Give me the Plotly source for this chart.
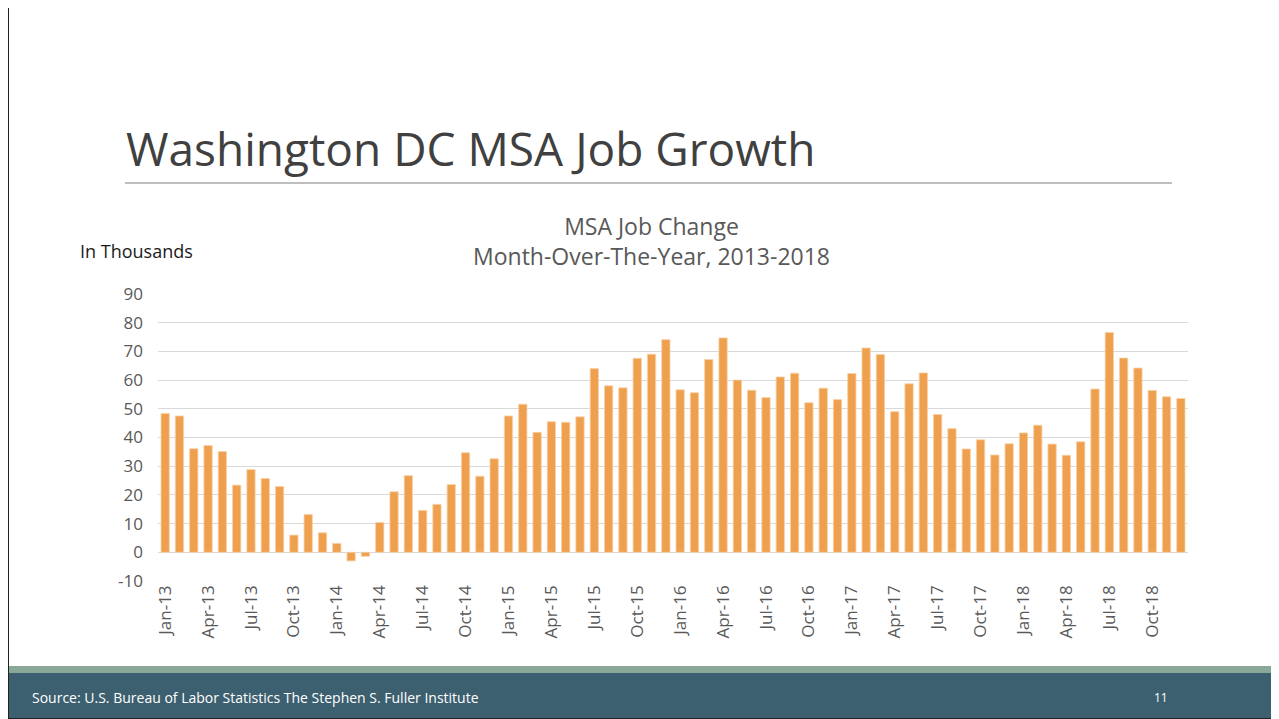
import plotly.graph_objects as go

# Job change month-over-the-year, in thousands
years = ["13", "14", "15", "16", "17", "18"]
month_names = ["Jan", "Feb", "Mar", "Apr", "May", "Jun",
               "Jul", "Aug", "Sep", "Oct", "Nov", "Dec"]
months = [m + "-" + y for y in years for m in month_names]

job_change = [
    48.4, 47.5, 36.1, 37.2, 35.1, 23.4, 28.8, 25.7, 22.9, 6.0, 13.2, 6.8,
    3.1, -3.0, -1.4, 10.4, 21.1, 26.7, 14.6, 16.7, 23.6, 34.7, 26.5, 32.6,
    47.5, 51.6, 41.8, 45.5, 45.3, 47.2, 64.0, 58.0, 57.3, 67.6, 69.0, 74.1,
    56.6, 55.6, 67.2, 74.7, 60.0, 56.5, 53.9, 61.1, 62.4, 52.1, 57.2, 53.2,
    62.3, 71.2, 68.9, 49.0, 58.7, 62.5, 48.0, 43.1, 36.0, 39.2, 33.9, 37.8,
    41.6, 44.3, 37.7, 33.8, 38.5, 56.9, 76.6, 67.7, 64.2, 56.4, 54.2, 53.6,
]

tick_labels = [m + "-" + y for y in years for m in ["Jan", "Apr", "Jul", "Oct"]]
y_ticks = [-10, 0, 10, 20, 30, 40, 50, 60, 70, 80, 90]
y_tick_text = ["-10", "0", "10", "20", "30", "40", "50", "60", "70", "80", "90"]

# the page puts the figure 8px in from the top-left corner
OFF = 8
W, H = 1279 - OFF, 719 - OFF


def px(x):
    return (x - OFF) / W


def py(y):
    return 1 - (y - OFF) / H


fig = go.Figure()
fig.add_trace(go.Bar(
    x=months,
    y=job_change,
    marker=dict(color="#EFA04E", line=dict(color="#F7D2A8", width=0.8)),
    name="Job Change",
))

fig.update_layout(
    width=W,
    height=H,
    margin=dict(l=0, r=0, t=0, b=0),
    paper_bgcolor="white",
    plot_bgcolor="white",
    showlegend=False,
    bargap=0.42,
    font=dict(family="Open Sans", color="#595959"),
    xaxis=dict(
        domain=[px(158), px(1188)],
        type="category",
        tickvals=tick_labels,
        ticktext=tick_labels,
        tickangle=-90,
        tickfont=dict(size=17, color="#595959"),
        showgrid=False,
        showline=False,
        ticks="",
        automargin=False,
    ),
    yaxis=dict(
        domain=[py(581), py(294)],
        range=[-10, 90],
        tickvals=y_ticks,
        ticktext=y_tick_text,
        tickfont=dict(size=17, color="#595959"),
        gridcolor="#D9D9D9",
        gridwidth=1,
        zeroline=True,
        zerolinecolor="#D9D9D9",
        zerolinewidth=1,
        showline=False,
        ticks="",
        ticklabelstandoff=14,
        automargin=False,
    ),
)

# slide title and rule
fig.add_annotation(
    text="Washington DC MSA Job Growth",
    x=px(124), y=py(148), xref="paper", yref="paper",
    xanchor="left", yanchor="middle", showarrow=False,
    font=dict(size=46, color="#404040", family="Open Sans"),
)
fig.add_shape(type="line", xref="paper", yref="paper",
              x0=px(125), x1=px(1172), y0=py(183), y1=py(183),
              line=dict(color="#7F7F7F", width=1))

# chart title
fig.add_annotation(
    text="MSA Job Change<br>Month-Over-The-Year, 2013-2018",
    x=px(651), y=py(241), xref="paper", yref="paper",
    xanchor="center", yanchor="middle", showarrow=False,
    font=dict(size=23, color="#595959", family="Open Sans"),
)

fig.add_annotation(
    text="In Thousands",
    x=px(78), y=py(251), xref="paper", yref="paper",
    xanchor="left", yanchor="middle", showarrow=False,
    font=dict(size=18, color="#1A1A1A", family="Open Sans"),
)

# footer bands
fig.add_shape(type="rect", xref="paper", yref="paper", layer="below",
              x0=0, x1=1, y0=py(673), y1=py(666),
              fillcolor="#8AA898", line=dict(width=0))
fig.add_shape(type="rect", xref="paper", yref="paper", layer="below",
              x0=0, x1=1, y0=0, y1=py(673),
              fillcolor="#3D6070", line=dict(width=0))
fig.add_annotation(
    text="Source: U.S. Bureau of Labor Statistics The Stephen S. Fuller Institute",
    x=px(30), y=py(697), xref="paper", yref="paper",
    xanchor="left", yanchor="middle", showarrow=False,
    font=dict(size=14, color="white", family="Open Sans"),
)
fig.add_annotation(
    text="11",
    x=px(1161), y=py(697), xref="paper", yref="paper",
    xanchor="center", yanchor="middle", showarrow=False,
    font=dict(size=12, color="white", family="Open Sans"),
)

# slide edges (left, right, bottom)
for x0, y0, x1, y1 in [(0, 0, 0, 1), (1, 0, 1, 1), (0, 0, 1, 0)]:
    fig.add_shape(type="line", xref="paper", yref="paper",
                  x0=x0, y0=y0, x1=x1, y1=y1,
                  line=dict(color="#222222", width=2))

fig.write_html("out.html")
